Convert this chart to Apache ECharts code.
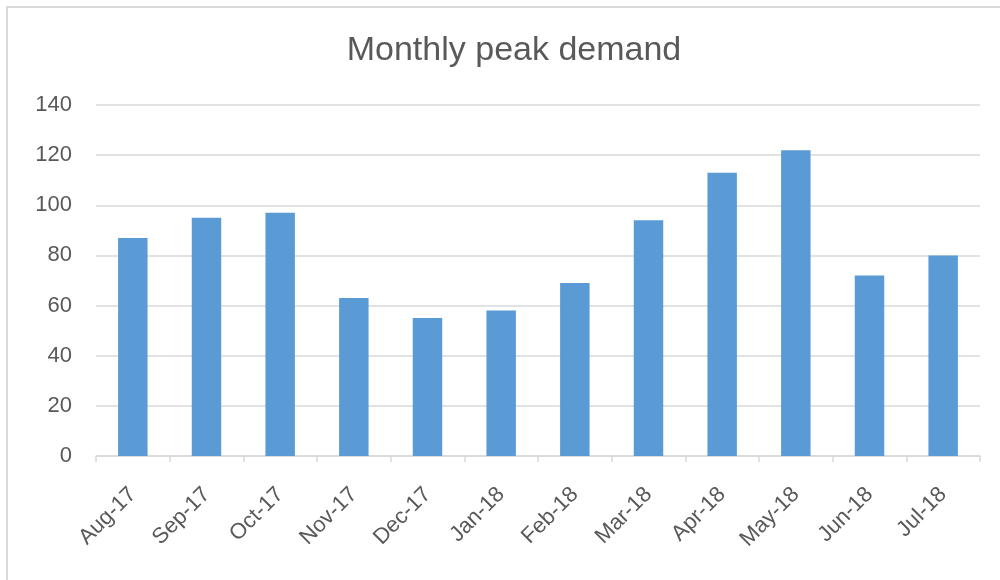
<!DOCTYPE html>
<html>
<head>
<meta charset="utf-8">
<script src="https://cdn.jsdelivr.net/npm/echarts@6/dist/echarts.min.js"></script>
<style>
html,body{margin:0;padding:0;background:#fff;}
#c{width:1000px;height:580px;}
</style>
</head>
<body>
<div id="c"></div>
<script>
const categories = ['Aug-17','Sep-17','Oct-17','Nov-17','Dec-17','Jan-18','Feb-18','Mar-18','Apr-18','May-18','Jun-18','Jul-18'];
const peakDemand = [87, 95, 97, 63, 55, 58, 69, 94, 113, 122, 72, 80];
const yTicks = [0, 20, 40, 60, 80, 100, 120, 140];

const chart = echarts.init(document.getElementById('c'));
chart.setOption({
  backgroundColor: '#fff',
  animation: false,
  graphic: [{
    type: 'rect',
    shape: { x: 7, y: 7, width: 1010, height: 600 },
    style: { fill: 'none', stroke: '#d9d9d9', lineWidth: 2 },
    silent: true
  }],
  title: {
    text: 'Monthly peak demand',
    left: 509,
    textAlign: 'center',
    top: 29,
    textStyle: { fontFamily: 'Liberation Sans', fontSize: 34, fontWeight: 'normal', color: '#595959' }
  },
  grid: { left: 96, right: 20, top: 105, bottom: 124, containLabel: false },
  xAxis: {
    type: 'category',
    data: categories,
    axisLine: { show: true, lineStyle: { color: '#d9d9d9', width: 1.5 } },
    axisTick: { show: true, alignWithLabel: false, length: 6, lineStyle: { color: '#d9d9d9', width: 1.5 } },
    axisLabel: { rotate: 45, margin: 35, fontFamily: 'Liberation Sans', fontSize: 22, color: '#595959' }
  },
  yAxis: {
    type: 'value',
    min: yTicks[0],
    max: yTicks[yTicks.length - 1],
    interval: 20,
    axisLine: { show: false },
    axisTick: { show: false },
    splitLine: { lineStyle: { color: '#d9d9d9', width: 1.5 } },
    axisLabel: { margin: 24, fontFamily: 'Liberation Sans', fontSize: 22, color: '#595959' }
  },
  series: [{
    type: 'bar',
    data: peakDemand,
    barWidth: '40%',
    itemStyle: { color: '#5B9BD5' }
  }]
});
</script>
</body>
</html>
